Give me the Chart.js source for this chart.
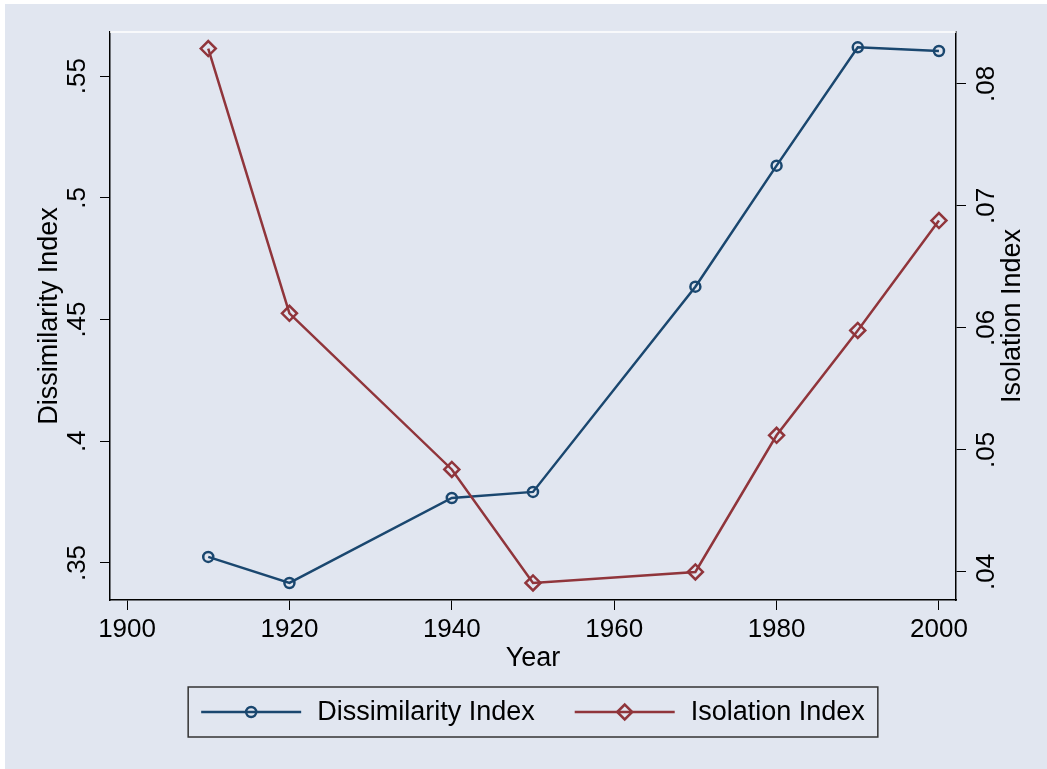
<!DOCTYPE html>
<html>
<head>
<meta charset="utf-8">
<script src="https://cdn.jsdelivr.net/npm/chart.js@4"></script>
<style>
    body { margin: 0; background: #ffffff; }
    #wrap { position: absolute; left: 5px; top: 4px; width: 1042px; height: 765px; background: #e1e6f0; }
</style>
</head>
<body>
<div id="wrap"><canvas id="segChart" width="1042" height="765"></canvas></div>
<script>
// data
const years = [1910, 1920, 1940, 1950, 1970, 1980, 1990, 2000];
const dissimilarity = [0.3525, 0.3418, 0.3767, 0.3792, 0.4635, 0.5132, 0.5618, 0.5603];
const isolation = [0.0829, 0.0612, 0.0484, 0.0391, 0.0400, 0.0512, 0.0598, 0.0688];

const xTicks = [1900, 1920, 1940, 1960, 1980, 2000];
const leftTicks = [0.35, 0.4, 0.45, 0.5, 0.55];
const rightTicks = [0.04, 0.05, 0.06, 0.07, 0.08];

const BLUE = '#1a476f';
const RED = '#90353b';
const PANEL = '#e1e6f0';
const FONT = "'Liberation Sans', Arial, sans-serif";

// stata style labels: ".55", ".4"
function stataNum(v) {
    return String(+v.toFixed(3)).replace(/^0\./, '.');
}

const pts = (ys) => years.map((y, i) => ({x: y, y: ys[i]}));

// right title + white top border + legend
const extras = {
    id: 'extras',
    afterDraw(chart) {
        const c = chart.ctx;
        const a = chart.chartArea;
        c.save();
        c.strokeStyle = '#ffffff';
        c.lineWidth = 1.5;
        c.beginPath();
        c.moveTo(a.left, a.top);
        c.lineTo(a.right, a.top);
        c.stroke();

        // right axis title
        c.fillStyle = '#000';
        c.font = '27px ' + FONT;
        c.textAlign = 'center';
        c.textBaseline = 'middle';
        c.translate(a.right + 57, (a.top + a.bottom) / 2);
        c.rotate(-Math.PI / 2);
        c.fillText('Isolation Index', 0, 0);
        c.restore();

        // legend
        const ds = chart.data.datasets;
        c.save();
        c.font = '27px ' + FONT;
        const lineLen = 100, pad = 13, gap = 16, between = 40;
        let w = pad * 2;
        ds.forEach((d, i) => {
            w += lineLen + gap + c.measureText(d.label).width;
            if (i < ds.length - 1) w += between;
        });
        const bh = 50;
        const bx = (a.left + a.right) / 2 - w / 2;
        const by = a.bottom + 87;
        c.strokeStyle = '#333';
        c.lineWidth = 1.5;
        c.strokeRect(bx, by, w, bh);
        let x = bx + pad;
        const cy = by + bh / 2;
        ds.forEach((d) => {
            c.strokeStyle = d.borderColor;
            c.lineWidth = d.borderWidth;
            c.beginPath();
            c.moveTo(x, cy);
            c.lineTo(x + lineLen, cy);
            c.stroke();
            c.fillStyle = 'rgba(0,0,0,0)';
            c.strokeStyle = d.pointBorderColor;
            c.lineWidth = d.pointBorderWidth;
            Chart.helpers.drawPoint(c, {
                pointStyle: d.pointStyle,
                radius: d.pointRadius,
                borderWidth: d.pointBorderWidth,
                rotation: 0
            }, x + lineLen / 2, cy);
            c.fillStyle = '#000';
            c.textAlign = 'left';
            c.textBaseline = 'middle';
            c.fillText(d.label, x + lineLen + gap, cy + 1);
            x += lineLen + gap + c.measureText(d.label).width + between;
        });
        c.restore();
    }
};

new Chart(document.getElementById('segChart'), {
    type: 'line',
    data: {
        datasets: [{
            label: 'Dissimilarity Index',
            data: pts(dissimilarity),
            yAxisID: 'y',
            borderColor: BLUE,
            borderWidth: 2.5,
            pointStyle: 'circle',
            pointRadius: 5,
            pointBorderWidth: 2.5,
            pointBorderColor: BLUE,
            pointBackgroundColor: 'rgba(0,0,0,0)',
            order: 1
        }, {
            label: 'Isolation Index',
            data: pts(isolation),
            yAxisID: 'y2',
            borderColor: RED,
            borderWidth: 2.5,
            pointStyle: 'rectRot',
            pointRadius: 7.5,
            pointBorderWidth: 2.5,
            pointBorderColor: RED,
            pointBackgroundColor: 'rgba(0,0,0,0)',
            order: 0
        }]
    },
    options: {
        responsive: false,
        animation: false,
        events: [],
        tension: 0,
        layout: { padding: { top: 28, left: 0, right: 0, bottom: 0 } },
        plugins: { legend: { display: false }, tooltip: { enabled: false } },
        scales: {
            x: {
                type: 'linear',
                min: 1897.9,
                max: 2002.1,
                afterBuildTicks: (s) => { s.ticks = xTicks.map(v => ({value: v})); },
                afterFit: (s) => { s.height = 169; },
                grid: { drawOnChartArea: false, drawTicks: true, tickLength: 10, color: '#000' },
                border: { display: true, color: '#000', width: 1.5 },
                ticks: {
                    color: '#000',
                    font: { family: FONT, size: 26 },
                    padding: 4,
                    maxRotation: 0,
                    callback: (v) => String(v)
                },
                title: {
                    display: true,
                    text: 'Year',
                    color: '#000',
                    font: { family: FONT, size: 27 },
                    padding: { top: 0, bottom: 94 }
                }
            },
            y: {
                type: 'linear',
                position: 'left',
                min: 0.3348,
                max: 0.5681,
                afterBuildTicks: (s) => { s.ticks = leftTicks.map(v => ({value: v})); },
                afterFit: (s) => { s.width = 105; },
                grid: { drawOnChartArea: false, drawTicks: true, tickLength: 10, color: '#000' },
                border: { display: true, color: '#000', width: 1.5 },
                ticks: {
                    color: '#000',
                    font: { family: FONT, size: 26 },
                    minRotation: 90,
                    maxRotation: 90,
                    crossAlign: 'center',
                    padding: 4,
                    callback: (v) => stataNum(v)
                },
                title: {
                    display: true,
                    text: 'Dissimilarity Index',
                    color: '#000',
                    font: { family: FONT, size: 27 },
                    padding: { top: 28, bottom: 0 }
                }
            },
            y2: {
                type: 'linear',
                position: 'right',
                min: 0.0377,
                max: 0.08426,
                afterBuildTicks: (s) => { s.ticks = rightTicks.map(v => ({value: v})); },
                afterFit: (s) => { s.width = 91; },
                grid: { drawOnChartArea: false, drawTicks: true, tickLength: 10, color: '#000' },
                border: { display: true, color: '#000', width: 1.5 },
                ticks: {
                    color: '#000',
                    font: { family: FONT, size: 26 },
                    minRotation: 90,
                    maxRotation: 90,
                    crossAlign: 'center',
                    padding: 3,
                    callback: (v) => stataNum(v)
                }
            }
        }
    },
    plugins: [extras]
});
</script>
</body>
</html>
